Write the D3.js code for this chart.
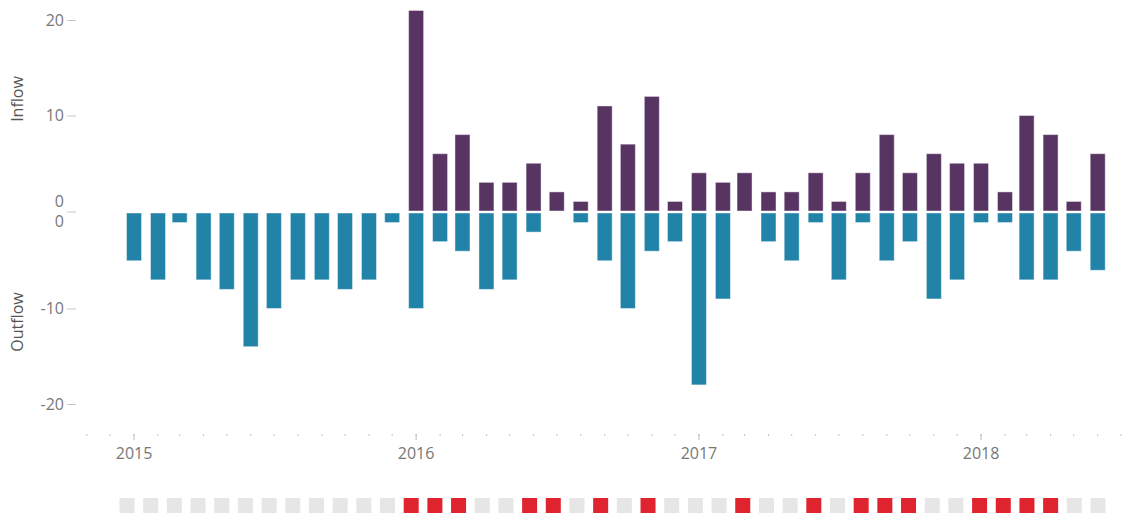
<!DOCTYPE html>
<html>
<head>
<meta charset="utf-8">
<script src="https://cdn.jsdelivr.net/npm/d3@7"></script>
<style>
  html, body { margin: 0; padding: 0; background: #fff; }
  svg { display: block; font-family: "Open Sans", sans-serif; }
</style>
</head>
<body>
<div id="chart"></div>
<script>
// monthly flows, Jan 2015 .. Jun 2018
const months = d3.timeMonths(new Date(2015, 0, 1), new Date(2018, 6, 1));

const inflow = [
    0, 0, 0, 0, 0, 0, 0, 0, 0, 0, 0, 0,
    21, 6, 8, 3, 3, 5, 2, 1, 11, 7, 12, 1,
    4, 3, 4, 2, 2, 4, 1, 4, 8, 4, 6, 5,
    5, 2, 10, 8, 1, 6
];

const outflow = [
    -5, -7, -1, -7, -8, -14, -10, -7, -7, -8, -7, -1,
    -10, -3, -4, -8, -7, -2, 0, -1, -5, -10, -4, -3,
    -18, -9, 0, -3, -5, -1, -7, -1, -5, -3, -9, -7,
    -1, -1, -7, -7, -4, -6
];

const inTicks = [0, 10, 20];
const outTicks = [0, -10, -20];

const width = 1141, height = 516;
const colors = { inflow: "#573462", outflow: "#2283a8", up: "#e0242f", flat: "#e6e6e6" };

const svg = d3.select("#chart").append("svg")
    .attr("width", width)
    .attr("height", height);

const x = d3.scaleTime()
    .domain([new Date(2014, 10, 1), new Date(2018, 6, 1)])
    .range([86.4, 1120.4]);

const yIn = d3.scaleLinear().domain([0, 20]).range([211, 20]);
const yOut = d3.scaleLinear().domain([0, -20]).range([213, 404]);

const strip = d3.scalePoint().domain(d3.range(months.length)).range([127, 1098]);

// y axes
function styleAxis(g) {
    g.select(".domain").remove();
    g.selectAll(".tick line").attr("stroke", "#c8c8c8");
    g.selectAll(".tick text")
        .attr("fill", "#777")
        .style("font-size", "16px")
        .style("font-family", "'Open Sans', sans-serif");
}

svg.append("g")
    .attr("transform", "translate(76,0)")
    .call(d3.axisLeft(yIn).tickValues(inTicks).tickSize(9).tickPadding(3).tickFormat(d => String(d)))
    .call(styleAxis)
    .call(g => g.selectAll(".tick").filter(d => d === 0).attr("transform", "translate(0,212)"))
    .call(g => g.selectAll(".tick text").filter(d => d === 0).attr("dy", "-0.3em"));

svg.append("g")
    .attr("transform", "translate(76,0)")
    .call(d3.axisLeft(yOut).tickValues(outTicks).tickSize(9).tickPadding(3).tickFormat(d => String(d)))
    .call(styleAxis)
    .call(g => g.selectAll(".tick").filter(d => d === 0).select("line").remove())
    .call(g => g.selectAll(".tick text").filter(d => d === 0).attr("dy", "0.85em"));

svg.append("text")
    .attr("transform", "translate(23,99) rotate(-90)")
    .attr("text-anchor", "middle")
    .attr("fill", "#555")
    .style("font-size", "16px")
    .text("Inflow");

svg.append("text")
    .attr("transform", "translate(23,322) rotate(-90)")
    .attr("text-anchor", "middle")
    .attr("fill", "#555")
    .style("font-size", "16px")
    .text("Outflow");

// x axis: monthly dots + yearly ticks
svg.append("g")
    .attr("transform", "translate(0,434)")
    .call(d3.axisBottom(x).ticks(d3.timeMonth.every(1)).tickSize(2).tickFormat(""))
    .call(g => g.select(".domain").remove())
    .call(g => g.selectAll(".tick line").attr("stroke", "#c4c4c4"));

svg.append("g")
    .attr("transform", "translate(0,434)")
    .call(d3.axisBottom(x).ticks(d3.timeYear.every(1)).tickSize(6).tickPadding(8).tickFormat(d3.timeFormat("%Y")))
    .call(styleAxis)
    .call(g => g.selectAll(".tick line").attr("stroke", "#bbb"));

// bars
const rows = months.map((m, i) => ({ date: m, i, inflow: inflow[i], outflow: outflow[i] }));

svg.append("g").selectAll("rect")
    .data(rows.filter(d => d.inflow !== 0))
    .join("rect")
    .attr("x", d => x(d.date) - 7)
    .attr("width", 15)
    .attr("y", d => yIn(d.inflow))
    .attr("height", d => yIn(0) - yIn(d.inflow))
    .attr("fill", colors.inflow)
    .attr("stroke", "#fff")
    .attr("stroke-opacity", 0.45);

svg.append("g").selectAll("rect")
    .data(rows.filter(d => d.outflow !== 0))
    .join("rect")
    .attr("x", d => x(d.date) - 7)
    .attr("width", 15)
    .attr("y", yOut(0))
    .attr("height", d => yOut(d.outflow) - yOut(0))
    .attr("fill", colors.outflow)
    .attr("stroke", "#fff")
    .attr("stroke-opacity", 0.45);

// net-inflow strip
svg.append("g").selectAll("rect")
    .data(rows)
    .join("rect")
    .attr("x", d => strip(d.i) - 7.5)
    .attr("y", 498)
    .attr("width", 15)
    .attr("height", 15)
    .attr("fill", d => d.inflow + d.outflow > 0 ? colors.up : colors.flat);
</script>
</body>
</html>
